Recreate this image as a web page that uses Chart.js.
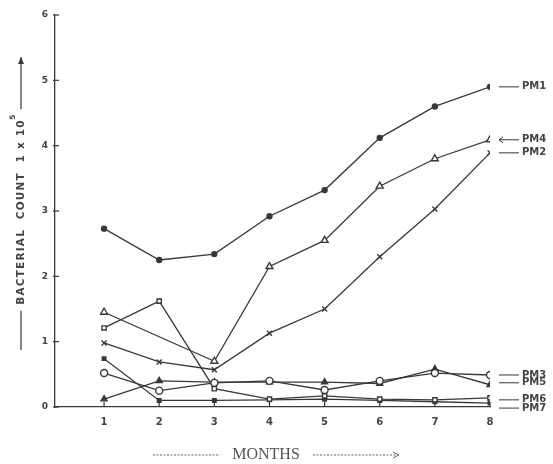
<!DOCTYPE html>
<html>
<head>
<meta charset="utf-8">
<script src="https://cdn.jsdelivr.net/npm/chart.js@4"></script>
<style>
  html, body { margin: 0; padding: 0; background: #fff; }
  #wrap { width: 553px; height: 464px; }
</style>
</head>
<body>
<div id="wrap"><canvas id="chart"></canvas></div>
<script>
// months on the x axis
const months = [1, 2, 3, 4, 5, 6, 7, 8];
const yTicks = [0, 1, 2, 3, 4, 5, 6];

// bacterial count (x 10^5) per sample
const pm1 = [2.73, 2.25, 2.34, 2.92, 3.32, 4.12, 4.6, 4.9];
const pm2 = [0.98, 0.69, 0.57, 1.13, 1.5, 2.3, 3.03, 3.89];
const pm3 = [0.52, 0.25, 0.37, 0.4, 0.26, 0.4, 0.52, 0.49];
const pm4 = [1.45, null, 0.7, 2.15, 2.55, 3.38, 3.8, 4.09];
const pm5 = [0.12, 0.4, 0.38, 0.38, 0.38, 0.36, 0.58, 0.34];
const pm6 = [1.21, 1.62, 0.28, 0.12, 0.17, 0.12, 0.11, 0.14];
const pm7 = [0.74, 0.1, 0.1, 0.11, 0.12, 0.1, 0.08, 0.06];

const INK = '#383838';

function series(label, values, style, fill, radius, labelDy, arrow) {
  return {
    label: label,
    data: months.map((m, i) => ({ x: m, y: values[i] })),
    borderColor: INK,
    borderWidth: 1.3,
    pointStyle: style,
    pointRadius: radius,
    pointBorderWidth: 1.4,
    pointBorderColor: INK,
    pointBackgroundColor: fill ? INK : '#fff',
    spanGaps: true,
    tension: 0,
    endLabelDy: labelDy,
    endArrow: arrow
  };
}

const datasets = [
  series('PM1', pm1, 'circle', true, 2.5, 0, false),
  series('PM4', pm4, 'triangle', false, 4, 0, true),
  series('PM2', pm2, 'crossRot', false, 3.5, 0, false),
  series('PM3', pm3, 'circle', false, 3.5, 0, false),
  series('PM5', pm5, 'triangle', true, 3.5, -2, false),
  series('PM6', pm6, 'rect', false, 3, 2, false),
  series('PM7', pm7, 'rect', true, 2.5, 5, false)
];

// axis titles, inward ticks and line labels at the right end
const decor = {
  id: 'decor',
  afterDraw(chart) {
    const ctx = chart.ctx;
    const xs = chart.scales.x, ys = chart.scales.y;
    const area = chart.chartArea;
    ctx.save();
    ctx.strokeStyle = INK;
    ctx.lineWidth = 1.2;
    // inward ticks
    months.forEach(m => {
      const px = xs.getPixelForValue(m);
      ctx.beginPath();
      ctx.moveTo(px, area.bottom);
      ctx.lineTo(px, area.bottom - 5);
      ctx.stroke();
    });
    yTicks.forEach(v => {
      const py = ys.getPixelForValue(v);
      ctx.beginPath();
      ctx.moveTo(area.left - 2, py);
      ctx.lineTo(area.left + 4, py);
      ctx.stroke();
    });

    // end labels
    ctx.font = 'bold 10px "DejaVu Sans"';
    ctx.fillStyle = '#444';
    ctx.textBaseline = 'middle';
    ctx.textAlign = 'left';
    chart.data.datasets.forEach((ds, i) => {
      const pts = chart.getDatasetMeta(i).data;
      const p = pts[pts.length - 1];
      const y = p.y + ds.endLabelDy;
      ctx.lineWidth = 1;
      ctx.beginPath();
      ctx.moveTo(p.x + 9, y);
      ctx.lineTo(p.x + 29, y);
      ctx.stroke();
      if (ds.endArrow) {
        ctx.beginPath();
        ctx.moveTo(p.x + 13, y - 3);
        ctx.lineTo(p.x + 9, y);
        ctx.lineTo(p.x + 13, y + 3);
        ctx.stroke();
      }
      ctx.fillText(ds.label, p.x + 32, y);
    });

    // x title
    ctx.font = '16px "Liberation Serif"';
    ctx.fillStyle = '#555';
    ctx.textAlign = 'center';
    ctx.fillText('MONTHS', 266, 455);
    ctx.strokeStyle = '#666';
    ctx.lineWidth = 1;
    ctx.setLineDash([2, 1.5]);
    ctx.beginPath();
    ctx.moveTo(153, 455);
    ctx.lineTo(220, 455);
    ctx.moveTo(313, 455);
    ctx.lineTo(396, 455);
    ctx.stroke();
    ctx.setLineDash([]);
    ctx.beginPath();
    ctx.moveTo(393, 452);
    ctx.lineTo(399, 455);
    ctx.lineTo(393, 458);
    ctx.stroke();

    // y title, rotated
    ctx.translate(21, 208);
    ctx.rotate(-Math.PI / 2);
    ctx.font = 'bold 10.5px "DejaVu Sans"';
    ctx.letterSpacing = '1.2px';
    ctx.fillStyle = '#444';
    ctx.textAlign = 'center';
    const t = 'BACTERIAL  COUNT  1 x 10';
    const w = ctx.measureText(t).width;
    ctx.fillText(t, -4, 0);
    ctx.letterSpacing = '0px';
    ctx.font = 'bold 7.5px "DejaVu Sans"';
    ctx.fillText('5', -4 + w / 2 + 2, -8);
    ctx.strokeStyle = INK;
    ctx.lineWidth = 1.2;
    ctx.beginPath();
    ctx.moveTo(-142, 0);
    ctx.lineTo(-4 - w / 2 - 6, 0);
    ctx.moveTo(-4 + w / 2 + 10, 0);
    ctx.lineTo(151, 0);
    ctx.stroke();
    ctx.beginPath();
    ctx.moveTo(151, 0);
    ctx.lineTo(144, -3);
    ctx.lineTo(144, 3);
    ctx.closePath();
    ctx.fillStyle = INK;
    ctx.fill();
    ctx.restore();
  }
};

new Chart(document.getElementById('chart'), {
  type: 'line',
  data: { datasets: datasets },
  options: {
    responsive: true,
    maintainAspectRatio: false,
    animation: false,
    layout: { padding: { left: 0, right: 63, top: 15, bottom: 0 } },
    plugins: { legend: { display: false }, tooltip: { enabled: false } },
    scales: {
      x: {
        type: 'linear',
        min: 0.11,
        max: 8,
        afterBuildTicks: s => { s.ticks = months.map(v => ({ value: v })); },
        afterFit: s => { s.height = 57; },
        grid: { display: false, drawTicks: false },
        border: { color: INK, width: 1.3 },
        ticks: {
          padding: 9,
          color: '#444',
          font: { family: 'DejaVu Sans', size: 10, weight: 'bold' }
        }
      },
      y: {
        min: 0,
        max: 6,
        afterBuildTicks: s => { s.ticks = yTicks.map(v => ({ value: v })); },
        afterFit: s => { s.width = 55; },
        grid: { display: false, drawTicks: false },
        border: { color: INK, width: 1.3 },
        ticks: {
          padding: 7,
          color: '#444',
          font: { family: 'DejaVu Sans', size: 9, weight: 'bold' }
        }
      }
    }
  },
  plugins: [decor]
});
</script>
</body>
</html>
